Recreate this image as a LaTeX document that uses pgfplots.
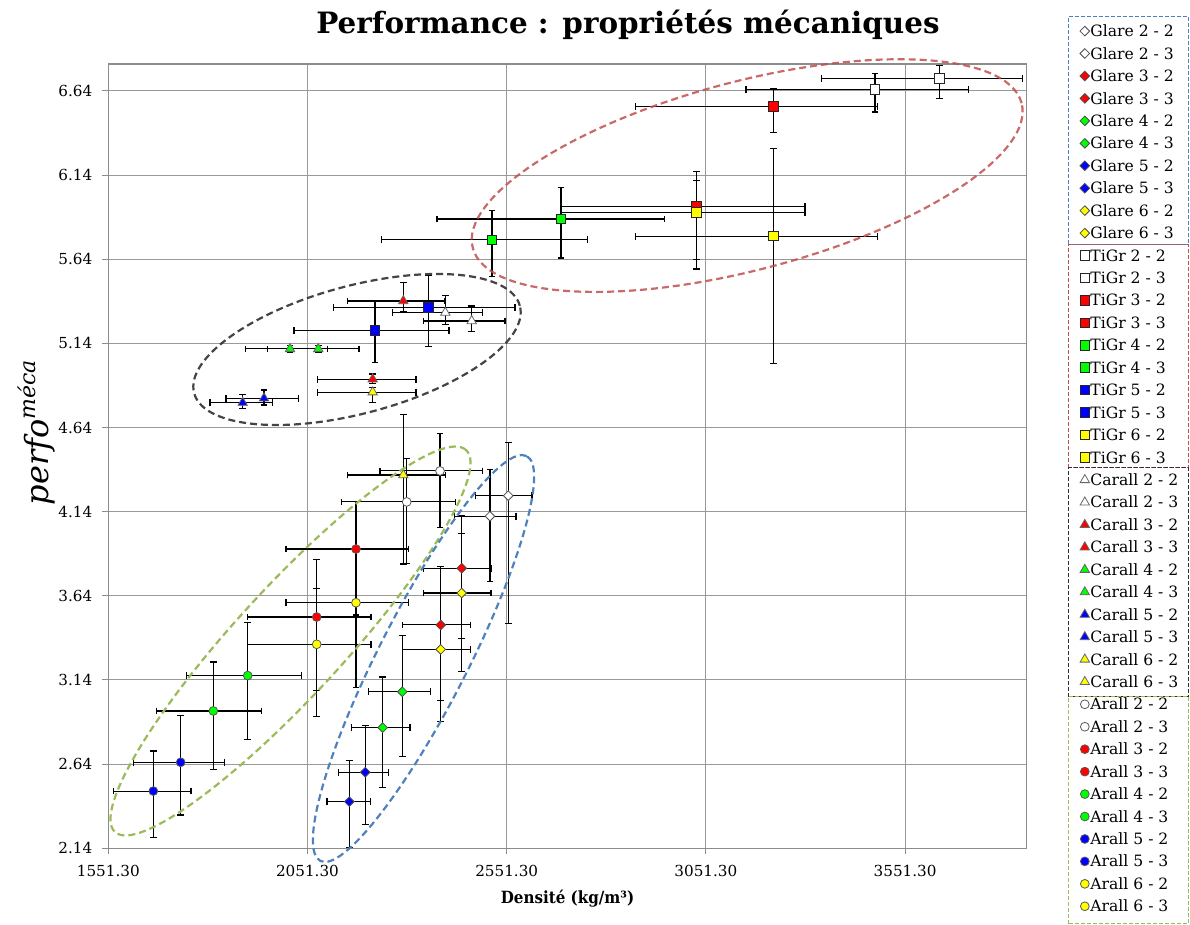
\documentclass[border=0pt]{standalone}
\usepackage{pgfplots}
\pgfplotsset{compat=1.18}
\usepackage{fontspec}
\setmainfont{DejaVu Serif}
\newfontfamily\condfont{DejaVu Serif Condensed}
\definecolor{ellred}{HTML}{C0504D}
\definecolor{ellblue}{HTML}{4F81BD}
\definecolor{ellgreen}{HTML}{9BBB59}
\definecolor{ellblack}{HTML}{303030}
\definecolor{cgreen}{HTML}{00FF00}
\definecolor{cred}{HTML}{FF0000}
\definecolor{cblue}{HTML}{0000FF}
\definecolor{cyellow}{HTML}{FFFF00}
\pgfplotsset{
  eb/.style={only marks,
    /pgfplots/error bars/x dir=both, /pgfplots/error bars/x explicit,
    /pgfplots/error bars/y dir=both, /pgfplots/error bars/y explicit,
    /pgfplots/error bars/error bar style={line width=0.55pt, black},
    /pgfplots/error bars/error mark options={rotate=90, mark size=1.7pt, line width=0.55pt, black}},
  gl/.style={eb, mark=square*, mark size=1.7pt, mark options={rotate=45, fill=#1, draw=black!70, line width=0.4pt}},
  ti/.style={eb, mark=square*, mark size=2.4pt, mark options={fill=#1, draw=black!85, line width=0.5pt}},
  ca/.style={eb, mark=triangle*, mark size=2.7pt, mark options={fill=#1, draw=black!60, line width=0.4pt}},
  ar/.style={eb, mark=*, mark size=2.2pt, mark options={fill=#1, draw=black!65, line width=0.4pt}},
}
\begin{document}
\begin{tikzpicture}[x=1pt,y=1pt]
\useasboundingbox (0,0) rectangle (595,462.5);
\begin{axis}[
  at={(54.15pt,38.35pt)}, anchor=south west, scale only axis,
  width=459pt, height=392.15pt,
  xmin=1551.3, xmax=3855.5, ymin=2.14, ymax=6.80,
  xtick={1551.3,2051.3,2551.3,3051.3,3551.3},
  xticklabels={1551.30,2051.30,2551.30,3051.30,3551.30},
  ytick={2.14,2.64,3.14,3.64,4.14,4.64,5.14,5.64,6.14,6.64},
  yticklabels={2.14,2.64,3.14,3.64,4.14,4.64,5.14,5.64,6.14,6.64},
  xtick pos=bottom, ytick pos=left,
  tick align=outside, major tick length=3pt,
  tick style={black!45, line width=0.5pt},
  axis line style={black!45, line width=0.6pt},
  grid=major, major grid style={black!40, line width=0.5pt},
  ticklabel style={font=\fontsize{7.6}{9}\selectfont},
  xticklabel style={yshift=-2pt},
  yticklabel style={xshift=-1.5pt},
  legend style={at={(axis description cs:1.0585,1.05623)}, anchor=north west,
    draw=none, fill=none, inner sep=0pt, outer sep=0pt, row sep=0pt, column sep=0pt,
    font=\fontsize{7.8}{9}\selectfont,
    nodes={inner sep=0.4pt, text height=8pt, text depth=2.42pt}},
  legend cell align=left,
  legend image code/.code={\draw[mark repeat=2,mark phase=2,#1] plot coordinates {(0pt,0pt) (4.5pt,0pt) (11pt,0pt)};},
]
% Glare
\addplot[gl=white] coordinates {(2555.3,4.235) += (59.5,0.317) -= (82.0,0.758)};
\addlegendentry{Glare 2 - 2}
\addplot[gl=white] coordinates {(2509.3,4.113) += (65.3,0.279) -= (89.6,0.389)};
\addlegendentry{Glare 2 - 3}
\addplot[gl=cred] coordinates {(2438.3,3.804) += (73.5,0.311) -= (96.4,0.418)};
\addlegendentry{Glare 3 - 2}
\addplot[gl=cred] coordinates {(2385.6,3.467) += (74.3,0.346) -= (96.4,0.447)};
\addlegendentry{Glare 3 - 3}
\addplot[gl=cgreen] coordinates {(2289.3,3.070) += (70.3,0.333) -= (85.3,0.386)};
\addlegendentry{Glare 4 - 2}
\addplot[gl=cgreen] coordinates {(2240.0,2.857) += (68.5,0.301) -= (77.8,0.357)};
\addlegendentry{Glare 4 - 3}
\addplot[gl=cblue] coordinates {(2196.3,2.592) += (58.7,0.279) -= (66.8,0.313)};
\addlegendentry{Glare 5 - 2}
\addplot[gl=cblue] coordinates {(2156.3,2.417) += (52.0,0.242) -= (56.0,0.271)};
\addlegendentry{Glare 5 - 3}
\addplot[gl=cyellow] coordinates {(2438.3,3.657) += (73.5,0.355) -= (96.4,0.468)};
\addlegendentry{Glare 6 - 2}
\addplot[gl=cyellow] coordinates {(2385.6,3.322) += (74.3,0.333) -= (96.4,0.428)};
\addlegendentry{Glare 6 - 3}
% TiGr
\addplot[ti=white] coordinates {(3637.1,6.715) += (209.3,0.077) -= (296.0,0.121)};
\addlegendentry{TiGr 2 - 2}
\addplot[ti=white] coordinates {(3475.7,6.650) += (234.2,0.091) -= (323.8,0.135)};
\addlegendentry{TiGr 2 - 3}
\addplot[ti=cred] coordinates {(3220.3,6.547) += (262.0,0.105) -= (344.6,0.156)};
\addlegendentry{TiGr 3 - 2}
\addplot[ti=cred] coordinates {(3028.2,5.952) += (271.8,0.208) -= (340.6,0.313)};
\addlegendentry{TiGr 3 - 3}
\addplot[ti=cgreen] coordinates {(2687.6,5.879) += (259.3,0.186) -= (311.2,0.232)};
\addlegendentry{TiGr 4 - 2}
\addplot[ti=cgreen] coordinates {(2514.4,5.755) += (240.2,0.172) -= (276.9,0.216)};
\addlegendentry{TiGr 4 - 3}
\addplot[ti=cblue] coordinates {(2355.5,5.352) += (216.6,0.190) -= (239.5,0.232)};
\addlegendentry{TiGr 5 - 2}
\addplot[ti=cblue] coordinates {(2220.7,5.218) += (185.7,0.174) -= (203.3,0.193)};
\addlegendentry{TiGr 5 - 3}
\addplot[ti=cyellow] coordinates {(3028.2,5.919) += (271.8,0.190) -= (340.6,0.337)};
\addlegendentry{TiGr 6 - 2}
\addplot[ti=cyellow] coordinates {(3220.3,5.777) += (262.0,0.519) -= (344.6,0.759)};
\addlegendentry{TiGr 6 - 3}
% Carall
\addplot[ca=white] coordinates {(2397.2,5.323) += (93.9,0.099) -= (133.0,0.069)};
\addlegendentry{Carall 2 - 2}
\addplot[ca=white] coordinates {(2463.4,5.273) += (83.6,0.089) -= (120.5,0.065)};
\addlegendentry{Carall 2 - 3}
\addplot[ca=cred] coordinates {(2291.8,5.392) += (104.7,0.109) -= (139.6,0.064)};
\addlegendentry{Carall 3 - 2}
\addplot[ca=cred] coordinates {(2214.9,4.927) += (108.7,0.031) -= (139.0,0.024)};
\addlegendentry{Carall 3 - 3}
\addplot[ca=cgreen] coordinates {(2007.4,5.107) += (94.6,0.020) -= (111.2,0.020)};
\addlegendentry{Carall 4 - 2}
\addplot[ca=cgreen] coordinates {(2078.4,5.107) += (102.2,0.020) -= (127.0,0.020)};
\addlegendentry{Carall 4 - 3}
\addplot[ca=cblue] coordinates {(1888.6,4.788) += (74.3,0.046) -= (82.0,0.033)};
\addlegendentry{Carall 5 - 2}
\addplot[ca=cblue] coordinates {(1942.1,4.814) += (86.1,0.049) -= (95.4,0.040)};
\addlegendentry{Carall 5 - 3}
\addplot[ca=cyellow] coordinates {(2214.9,4.850) += (108.7,0.030) -= (139.0,0.059)};
\addlegendentry{Carall 6 - 2}
\addplot[ca=cyellow] coordinates {(2291.8,4.358) += (106.4,0.357) -= (139.6,0.529)};
\addlegendentry{Carall 6 - 3}
% Arall
\addplot[ar=white] coordinates {(2383.9,4.382) += (106.2,0.222) -= (150.6,0.335)};
\addlegendentry{Arall 2 - 2}
\addplot[ar=white] coordinates {(2300.3,4.198) += (123.0,0.260) -= (163.2,0.368)};
\addlegendentry{Arall 2 - 3}
\addplot[ar=cred] coordinates {(2173.0,3.918) += (131.3,0.283) -= (175.7,0.392)};
\addlegendentry{Arall 3 - 2}
\addplot[ar=cred] coordinates {(2074.4,3.514) += (136.3,0.340) -= (173.2,0.436)};
\addlegendentry{Arall 3 - 3}
\addplot[ar=cgreen] coordinates {(1901.2,3.166) += (134.5,0.315) -= (154.1,0.382)};
\addlegendentry{Arall 4 - 2}
\addplot[ar=cgreen] coordinates {(1814.9,2.956) += (121.5,0.291) -= (142.0,0.349)};
\addlegendentry{Arall 4 - 3}
\addplot[ar=cblue] coordinates {(1733.0,2.651) += (109.4,0.279) -= (119.0,0.313)};
\addlegendentry{Arall 5 - 2}
\addplot[ar=cblue] coordinates {(1664.3,2.480) += (94.6,0.238) -= (100.4,0.277)};
\addlegendentry{Arall 5 - 3}
\addplot[ar=cyellow] coordinates {(2173.0,3.599) += (131.3,0.330) -= (175.7,0.505)};
\addlegendentry{Arall 6 - 2}
\addplot[ar=cyellow] coordinates {(2074.4,3.352) += (136.3,0.329) -= (173.2,0.428)};
\addlegendentry{Arall 6 - 3}
\end{axis}
% group ellipses
\begin{scope}[line width=1.1pt, dash pattern=on 3.5pt off 2pt]
\draw[ellred, opacity=0.85] (373.6,374.7) circle[x radius=141.9, y radius=47.05, rotate=14.8];
\draw[ellblack, opacity=0.9] (178.5,287.75) circle[x radius=84.3, y radius=31.9, rotate=15];
\draw[ellgreen] (145.25,142.0) circle[x radius=129.7, y radius=27, rotate=47.4];
\draw[ellblue] (211.75,133.25) circle[x radius=113.6, y radius=22.4, rotate=63];
\end{scope}
% legend group boxes
\begin{scope}[line width=0.5pt, dash pattern=on 2pt off 1pt]
\draw[ellblue] (534.15,340.25) rectangle (594.15,454.15);
\draw[ellred] (534.15,228.5) rectangle (594.15,340.25);
\draw[ellblack] (534.15,114.15) rectangle (594.15,228.5);
\draw[ellgreen] (534.15,0.5) rectangle (594.15,114.15);
\end{scope}
% titles
\node[anchor=base, font=\fontsize{14.7}{16}\selectfont\bfseries] at (314,445.85) {Performance : propriétés mécaniques};
\node[anchor=base, font=\fontsize{8.4}{10}\selectfont\condfont\bfseries] at (283.75,10.5) {Densité (kg/m³)};
\node[rotate=90, anchor=center] at (18.5,246.25) {\fontsize{16}{18}\selectfont\itshape perfo\raisebox{6.5pt}{\fontsize{11}{12}\selectfont\itshape méca}};
\end{tikzpicture}
\end{document}
